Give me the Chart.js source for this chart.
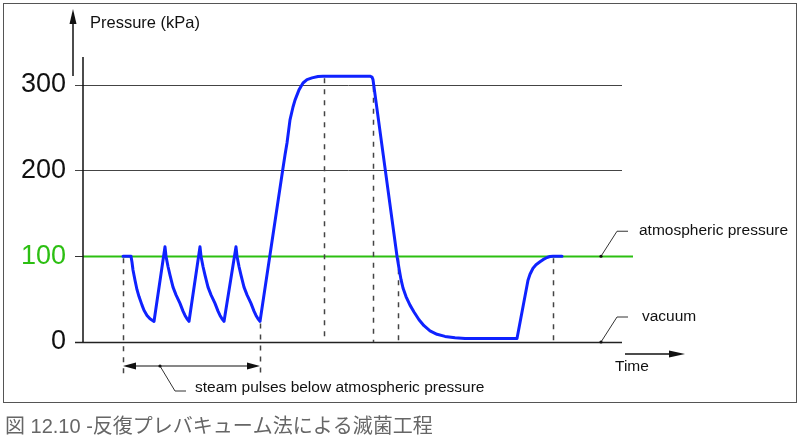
<!DOCTYPE html>
<html>
<head>
<meta charset="utf-8">
<script src="https://cdn.jsdelivr.net/npm/chart.js@4/dist/chart.umd.min.js"></script>
<style>
  body { margin: 0; background: #fff; }
  #wrap { position: relative; width: 800px; height: 442px; }
</style>
</head>
<body>
<div id="wrap"><canvas id="chart" width="800" height="442"></canvas></div>
<script>
// time axis is in arbitrary units (no scale shown), pressure in kPa
var timeUnits   = [40, 48, 49, 50, 52, 54, 56, 59, 61, 64, 67, 71,
                   82, 83, 85, 87, 90, 93, 97, 100, 102, 104, 106,
                   117, 118, 120, 122, 125, 128, 132, 135, 137, 139, 141,
                   153, 154, 156, 158, 161, 164, 168, 171, 173, 175, 177,
                   200, 202, 204, 207, 210, 212, 216, 220, 224, 229, 235, 240,
                   287, 289, 290, 302, 314, 316, 318, 320, 323, 327, 331, 336, 341, 347, 354, 362, 372, 382,
                   434, 445, 447, 450, 453, 457, 460, 464, 467, 470, 479];
var pressureKPa = [100, 100, 93, 84, 72, 61, 53, 43, 37, 31, 27, 24,
                   111, 100, 88, 78, 64, 55, 45, 36, 31, 27, 24,
                   111, 100, 88, 78, 64, 55, 45, 36, 31, 27, 24,
                   111, 100, 88, 78, 64, 55, 45, 36, 31, 27, 24,
                   203, 218, 232, 259, 274, 282, 294, 302, 306, 308, 309.5, 310,
                   310, 309, 306, 203, 100, 86, 73, 63, 53, 43, 35, 26, 19, 13, 9, 6.5, 5, 4,
                   4, 72, 79, 86, 90, 93.5, 96, 98.5, 99.7, 100, 100];

var yTicks = [0, 100, 200, 300];
var atmosphericKPa = 100;

// dashed phase markers: time, where they start and end (kPa)
var markTimes   = [40, 177, 241, 290, 315, 470];
var markTops    = [100, 24, 310, 300, 100, 100];
var markBottoms = [-41, -41, 0, 0, 0, 0];

var labelFont = '15.5px "Liberation Sans", Arial, sans-serif';

function arrowHead(ctx, x, y, dir, len, half) {
    // dir: 'up' | 'right' | 'left'
    ctx.beginPath();
    if (dir == 'up') {
        ctx.moveTo(x, y); ctx.lineTo(x - half, y + len); ctx.lineTo(x + half, y + len);
    } else if (dir == 'right') {
        ctx.moveTo(x, y); ctx.lineTo(x - len, y - half); ctx.lineTo(x - len, y + half);
    } else {
        ctx.moveTo(x, y); ctx.lineTo(x + len, y - half); ctx.lineTo(x + len, y + half);
    }
    ctx.closePath();
    ctx.fill();
}

function leader(ctx, x0, y0, x1, y1, x2) {
    ctx.strokeStyle = '#333';
    ctx.lineWidth = 1;
    ctx.beginPath();
    ctx.moveTo(x0, y0); ctx.lineTo(x1, y1); ctx.lineTo(x2, y1);
    ctx.stroke();
    ctx.fillStyle = '#111';
    ctx.beginPath(); ctx.arc(x0, y0, 1.6, 0, Math.PI * 2); ctx.fill();
}

var diagramPlugin = {
    id: 'diagram',
    beforeDatasetsDraw: function(chart) {
        var ctx = chart.ctx, xs = chart.scales.x, ys = chart.scales.y;
        var left = xs.left, right = xs.right;
        ctx.save();

        // frame
        ctx.strokeStyle = '#555';
        ctx.lineWidth = 1;
        ctx.strokeRect(3.5, 3.5, 793, 399);

        // horizontal grid lines
        yTicks.forEach(function(v) {
            var y = Math.round(ys.getPixelForValue(v)) + 0.5;
            if (v == atmosphericKPa) {
                ctx.strokeStyle = '#2cbf12';
                ctx.lineWidth = 2;
                ctx.beginPath(); ctx.moveTo(left, y); ctx.lineTo(right + 11, y); ctx.stroke();
                ctx.strokeStyle = '#333';
                ctx.lineWidth = 1;
                ctx.beginPath(); ctx.moveTo(left - 8, y); ctx.lineTo(left, y); ctx.stroke();
            } else {
                ctx.strokeStyle = v == 0 ? '#222' : '#444';
                ctx.lineWidth = v == 0 ? 1.5 : 1;
                ctx.beginPath(); ctx.moveTo(left - 8, y); ctx.lineTo(right, y); ctx.stroke();
            }
        });

        // y axis line
        ctx.strokeStyle = '#111';
        ctx.lineWidth = 1.5;
        ctx.beginPath();
        ctx.moveTo(left, chart.chartArea.top - 2);
        ctx.lineTo(left, ys.getPixelForValue(0));
        ctx.stroke();

        // dashed markers
        ctx.strokeStyle = '#444';
        ctx.lineWidth = 1.5;
        ctx.setLineDash([5, 6]);
        markTimes.forEach(function(t, i) {
            var x = Math.round(xs.getPixelForValue(t)) + 0.5;
            ctx.beginPath();
            ctx.moveTo(x, ys.getPixelForValue(markTops[i]) + 2);
            ctx.lineTo(x, ys.getPixelForValue(markBottoms[i]));
            ctx.stroke();
        });
        ctx.setLineDash([]);
        ctx.restore();
    },
    afterDatasetsDraw: function(chart) {
        var ctx = chart.ctx, xs = chart.scales.x, ys = chart.scales.y;
        var left = xs.left, right = xs.right;
        var y0 = ys.getPixelForValue(0), yAtm = ys.getPixelForValue(atmosphericKPa);
        ctx.save();
        ctx.fillStyle = '#111';
        ctx.strokeStyle = '#111';

        // pressure arrow
        ctx.lineWidth = 1.5;
        ctx.beginPath(); ctx.moveTo(left - 10, 76); ctx.lineTo(left - 10, 20); ctx.stroke();
        arrowHead(ctx, left - 10, 9, 'up', 15, 3.5);
        ctx.font = '16.5px "Liberation Sans", Arial, sans-serif';
        ctx.textBaseline = 'middle';
        ctx.fillText('Pressure (kPa)', 90, 23);

        // time arrow
        ctx.lineWidth = 1.5;
        ctx.beginPath(); ctx.moveTo(right + 3, y0 + 12); ctx.lineTo(right + 50, y0 + 12); ctx.stroke();
        arrowHead(ctx, right + 63, y0 + 12, 'right', 16, 3.5);
        ctx.font = labelFont;
        ctx.fillText('Time', 615, y0 + 25);

        // pulse span double arrow
        var xa = xs.getPixelForValue(markTimes[0]), xb = xs.getPixelForValue(markTimes[1]);
        var ya = y0 + 24;
        ctx.lineWidth = 1.2;
        ctx.beginPath(); ctx.moveTo(xa + 10, ya); ctx.lineTo(xb - 10, ya); ctx.stroke();
        arrowHead(ctx, xa, ya, 'left', 13, 3.5);
        arrowHead(ctx, xb, ya, 'right', 13, 3.5);
        leader(ctx, xa + 37, ya, xa + 52, ya + 25, xa + 63);
        ctx.fillStyle = '#111';
        ctx.fillText('steam pulses below atmospheric pressure', 195, ya + 22);

        // atmospheric / vacuum notes
        leader(ctx, right - 21, yAtm, right - 5, yAtm - 25, right + 6);
        ctx.fillStyle = '#111';
        ctx.fillText('atmospheric pressure', 639, yAtm - 26);
        leader(ctx, right - 21, y0, right - 5, y0 - 25, right + 6);
        ctx.fillStyle = '#111';
        ctx.fillText('vacuum', 642, y0 - 25);

        // caption
        ctx.fillStyle = '#666';
        ctx.font = '20px "Liberation Sans", "Noto Sans CJK JP", sans-serif';
        ctx.fillText('図 12.10 -反復プレバキューム法による滅菌工程', 5, 427);
        ctx.restore();
    }
};

new Chart(document.getElementById('chart').getContext('2d'), {
    type: 'line',
    data: {
        datasets: [{
            data: timeUnits.map(function(t, i) { return { x: t, y: pressureKPa[i] }; }),
            borderColor: '#0f22ff',
            borderWidth: 3,
            pointRadius: 0,
            tension: 0,
            borderJoinStyle: 'round',
            borderCapStyle: 'round'
        }]
    },
    options: {
        responsive: false,
        animation: false,
        layout: { padding: { top: 59, right: 178, bottom: 100, left: 0 } },
        plugins: { legend: { display: false }, tooltip: { enabled: false } },
        scales: {
            x: { type: 'linear', min: 0, max: 539, display: false },
            y: {
                min: 0, max: 330,
                afterFit: function(s) { s.width = 83; },
                grid: { display: false },
                border: { display: false },
                ticks: {
                    stepSize: 100,
                    includeBounds: false,
                    padding: 9,
                    font: { size: 27, family: '"Liberation Sans", Arial, sans-serif' },
                    color: function(c) { return c.tick.value == atmosphericKPa ? '#2cbf12' : '#111'; }
                }
            }
        }
    },
    plugins: [diagramPlugin]
});
</script>
</body>
</html>
